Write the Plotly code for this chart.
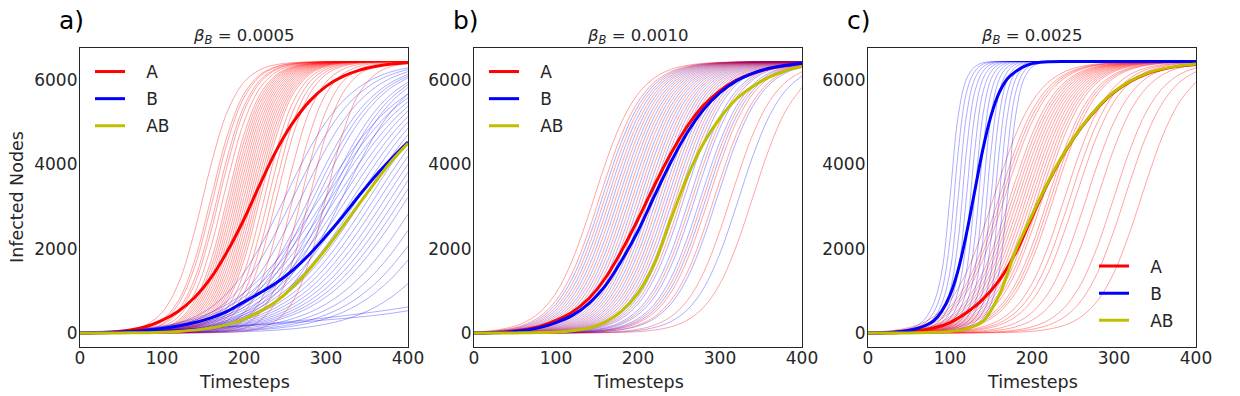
import plotly.graph_objects as go

# timesteps (runs sampled every 20 steps; panel c "B" runs are steep, so a finer grid)
t = list(range(0, 401, 20))
t_fast = [0, 20, 40, 50, 60, 70, 80, 90, 100, 110, 120, 130, 140, 150, 160, 170,
          180, 190, 200, 210, 220, 240, 260, 300, 400]

x_ticks = [0, 100, 200, 300, 400]
y_ticks = [0, 2000, 4000, 6000]
titles = ["0.0005", "0.0010", "0.0025"]
labels = ["a)", "b)", "c)"]

# ---- panel a : beta_B = 0.0005 ----
a_mean_A = [0, 8, 25, 70, 150, 300, 520, 850, 1320, 1950, 2700, 3550, 4350, 5000, 5500, 5850, 6080, 6230, 6320, 6380, 6410]
a_mean_B = [0, 5, 15, 35, 65, 110, 170, 250, 360, 520, 740, 960, 1200, 1500, 1870, 2300, 2760, 3250, 3720, 4140, 4530]
a_mean_AB = [0, 0, 2, 5, 10, 20, 40, 70, 120, 200, 330, 520, 760, 1100, 1520, 2000, 2520, 3050, 3580, 4080, 4500]

a_runs_A = [
    [4, 10, 26, 71, 189, 489, 1172, 2433, 4007, 5268, 5951, 6251, 6369, 6414, 6430, 6437, 6440, 6440, 6440, 6440, 6440],
    [2, 6, 16, 43, 116, 305, 768, 1732, 3220, 4708, 5672, 6135, 6324, 6397, 6424, 6434, 6438, 6440, 6440, 6440, 6440],
    [2, 5, 14, 38, 102, 271, 687, 1578, 3019, 4545, 5584, 6096, 6309, 6391, 6422, 6433, 6438, 6440, 6440, 6440, 6440],
    [2, 4, 11, 30, 80, 213, 548, 1300, 2623, 4195, 5380, 6005, 6273, 6378, 6417, 6431, 6437, 6440, 6440, 6440, 6440],
    [1, 4, 10, 26, 71, 189, 489, 1172, 2433, 4007, 5268, 5951, 6251, 6369, 6414, 6430, 6437, 6440, 6440, 6440, 6440],
    [1, 3, 8, 20, 55, 148, 387, 954, 2066, 3620, 5006, 5826, 6200, 6349, 6406, 6428, 6436, 6440, 6440, 6440, 6440],
    [1, 2, 6, 16, 43, 116, 305, 768, 1732, 3220, 4708, 5672, 6135, 6324, 6397, 6424, 6434, 6438, 6440, 6440, 6440],
    [1, 2, 5, 14, 38, 102, 271, 687, 1578, 3019, 4545, 5584, 6096, 6309, 6391, 6422, 6433, 6438, 6440, 6440, 6440],
    [1, 2, 5, 12, 34, 91, 240, 614, 1434, 2820, 4374, 5486, 6053, 6292, 6385, 6420, 6432, 6437, 6440, 6440, 6440],
    [1, 2, 4, 11, 30, 80, 213, 548, 1300, 2623, 4195, 5380, 6005, 6273, 6378, 6417, 6431, 6437, 6440, 6440, 6440],
    [0, 1, 4, 10, 26, 71, 189, 489, 1172, 2433, 4007, 5268, 5951, 6251, 6369, 6414, 6430, 6437, 6440, 6440, 6440],
    [0, 1, 3, 9, 23, 62, 167, 435, 1059, 2245, 3817, 5141, 5892, 6227, 6360, 6410, 6429, 6436, 6439, 6440, 6440],
    [0, 1, 3, 8, 20, 55, 148, 387, 954, 2066, 3620, 5006, 5826, 6200, 6349, 6406, 6428, 6436, 6440, 6440, 6440],
    [0, 1, 2, 7, 18, 49, 131, 344, 856, 1895, 3421, 4862, 5753, 6169, 6338, 6402, 6426, 6435, 6438, 6440, 6440],
    [0, 1, 2, 6, 16, 43, 116, 305, 768, 1732, 3220, 4708, 5672, 6135, 6324, 6397, 6424, 6434, 6438, 6440, 6440],
    [0, 1, 2, 5, 14, 38, 102, 271, 687, 1578, 3019, 4545, 5584, 6096, 6309, 6391, 6422, 6433, 6438, 6440, 6440],
    [0, 1, 2, 5, 12, 34, 91, 240, 614, 1434, 2820, 4374, 5486, 6053, 6292, 6385, 6420, 6432, 6437, 6440, 6440],
    [0, 1, 2, 4, 11, 30, 80, 213, 548, 1300, 2623, 4195, 5380, 6005, 6273, 6378, 6417, 6431, 6437, 6440, 6440],
    [0, 0, 1, 4, 10, 26, 71, 189, 489, 1172, 2433, 4007, 5268, 5951, 6251, 6369, 6414, 6430, 6437, 6440, 6440],
    [0, 0, 1, 3, 9, 23, 62, 167, 435, 1059, 2245, 3817, 5141, 5892, 6227, 6360, 6410, 6429, 6436, 6439, 6440],
    [0, 0, 1, 3, 8, 20, 55, 148, 387, 954, 2066, 3620, 5006, 5826, 6200, 6349, 6406, 6428, 6436, 6440, 6440],
    [0, 0, 1, 2, 7, 18, 49, 131, 344, 856, 1895, 3421, 4862, 5753, 6169, 6338, 6402, 6426, 6435, 6438, 6440],
    [0, 0, 1, 2, 6, 16, 43, 116, 305, 768, 1732, 3220, 4708, 5672, 6135, 6324, 6397, 6424, 6434, 6438, 6440],
    [0, 0, 1, 2, 5, 12, 34, 91, 240, 614, 1434, 2820, 4374, 5486, 6053, 6292, 6385, 6420, 6432, 6437, 6440],
    [0, 0, 0, 1, 4, 10, 26, 71, 189, 489, 1172, 2433, 4007, 5268, 5951, 6251, 6369, 6414, 6430, 6437, 6440],
    [0, 0, 0, 1, 3, 8, 20, 55, 148, 387, 954, 2066, 3620, 5006, 5826, 6200, 6349, 6406, 6428, 6436, 6440],
    [0, 0, 0, 1, 2, 6, 16, 43, 116, 305, 768, 1732, 3220, 4708, 5672, 6135, 6324, 6397, 6424, 6434, 6438],
    [0, 0, 0, 0, 1, 4, 10, 26, 71, 189, 489, 1172, 2433, 4007, 5268, 5951, 6251, 6369, 6414, 6430, 6437],
    [0, 0, 0, 0, 1, 2, 6, 16, 43, 116, 305, 768, 1732, 3220, 4708, 5672, 6135, 6324, 6397, 6424, 6434],
    [0, 0, 0, 0, 0, 1, 4, 10, 26, 71, 189, 489, 1172, 2433, 4007, 5268, 5951, 6251, 6369, 6414, 6430],
    [0, 0, 0, 0, 0, 1, 2, 6, 16, 43, 116, 305, 768, 1732, 3220, 4708, 5672, 6135, 6324, 6397, 6424],
    [0, 0, 0, 0, 0, 0, 1, 2, 6, 16, 43, 116, 305, 768, 1732, 3220, 4708, 5672, 6135, 6324, 6397],
]
a_runs_B = [
    [12, 20, 34, 55, 91, 148, 240, 387, 614, 954, 1434, 2066, 2820, 3620, 4374, 5006, 5486, 5826, 6053, 6200, 6292],
    [23, 34, 49, 71, 102, 148, 213, 305, 435, 614, 856, 1172, 1578, 2066, 2623, 3220, 3817, 4374, 4862, 5268, 5584],
    [10, 16, 26, 43, 71, 116, 189, 305, 489, 768, 1172, 1732, 2433, 3220, 4007, 4708, 5268, 5672, 5951, 6135, 6251],
    [26, 38, 55, 80, 116, 167, 240, 344, 489, 687, 954, 1300, 1732, 2245, 2820, 3421, 4007, 4545, 5006, 5380, 5672],
    [8, 12, 20, 34, 55, 91, 148, 240, 387, 614, 954, 1434, 2066, 2820, 3620, 4374, 5006, 5486, 5826, 6053, 6200],
    [18, 26, 38, 55, 80, 116, 167, 240, 344, 489, 687, 954, 1300, 1732, 2245, 2820, 3421, 4007, 4545, 5006, 5380],
    [20, 30, 43, 62, 91, 131, 189, 271, 387, 548, 768, 1059, 1434, 1895, 2433, 3019, 3620, 4195, 4708, 5141, 5486],
    [6, 10, 16, 26, 43, 71, 116, 189, 305, 489, 768, 1172, 1732, 2433, 3220, 4007, 4708, 5268, 5672, 5951, 6135],
    [14, 20, 30, 43, 62, 91, 131, 189, 271, 387, 548, 768, 1059, 1434, 1895, 2433, 3019, 3620, 4195, 4708, 5141],
    [5, 9, 14, 23, 38, 62, 102, 167, 271, 435, 687, 1059, 1578, 2245, 3019, 3817, 4545, 5141, 5584, 5892, 6096],
    [16, 23, 34, 49, 71, 102, 148, 213, 305, 435, 614, 856, 1172, 1578, 2066, 2623, 3220, 3817, 4374, 4862, 5268],
    [5, 8, 12, 20, 34, 55, 91, 148, 240, 387, 614, 954, 1434, 2066, 2820, 3620, 4374, 5006, 5486, 5826, 6053],
    [11, 16, 23, 34, 49, 71, 102, 148, 213, 305, 435, 614, 856, 1172, 1578, 2066, 2623, 3220, 3817, 4374, 4862],
    [12, 18, 26, 38, 55, 80, 116, 167, 240, 344, 489, 687, 954, 1300, 1732, 2245, 2820, 3421, 4007, 4545, 5006],
    [4, 6, 10, 16, 26, 43, 71, 116, 189, 305, 489, 768, 1172, 1732, 2433, 3220, 4007, 4708, 5268, 5672, 5951],
    [9, 12, 18, 26, 38, 55, 80, 116, 167, 240, 344, 489, 687, 954, 1300, 1732, 2245, 2820, 3421, 4007, 4545],
    [10, 14, 20, 30, 43, 62, 91, 131, 189, 271, 387, 548, 768, 1059, 1434, 1895, 2433, 3019, 3620, 4195, 4708],
    [3, 5, 9, 14, 23, 38, 62, 102, 167, 271, 435, 687, 1059, 1578, 2245, 3019, 3817, 4545, 5141, 5584, 5892],
    [7, 10, 14, 20, 30, 43, 62, 91, 131, 189, 271, 387, 548, 768, 1059, 1434, 1895, 2433, 3019, 3620, 4195],
    [3, 5, 8, 12, 20, 34, 55, 91, 148, 240, 387, 614, 954, 1434, 2066, 2820, 3620, 4374, 5006, 5486, 5826],
    [8, 11, 16, 23, 34, 49, 71, 102, 148, 213, 305, 435, 614, 856, 1172, 1578, 2066, 2623, 3220, 3817, 4374],
    [5, 8, 11, 16, 23, 34, 49, 71, 102, 148, 213, 305, 435, 614, 856, 1172, 1578, 2066, 2623, 3220, 3817],
    [2, 4, 6, 10, 16, 26, 43, 71, 116, 189, 305, 489, 768, 1172, 1732, 2433, 3220, 4007, 4708, 5268, 5672],
    [6, 9, 12, 18, 26, 38, 55, 80, 116, 167, 240, 344, 489, 687, 954, 1300, 1732, 2245, 2820, 3421, 4007],
    [4, 6, 9, 12, 18, 26, 38, 55, 80, 116, 167, 240, 344, 489, 687, 954, 1300, 1732, 2245, 2820, 3421],
    [5, 7, 10, 14, 20, 30, 43, 62, 91, 131, 189, 271, 387, 548, 768, 1059, 1434, 1895, 2433, 3019, 3620],
    [4, 5, 8, 11, 16, 23, 34, 49, 71, 102, 148, 213, 305, 435, 614, 856, 1172, 1578, 2066, 2623, 3220],
    [3, 4, 6, 9, 12, 18, 26, 38, 55, 80, 116, 167, 240, 344, 489, 687, 954, 1300, 1732, 2245, 2820],
    [2, 3, 5, 7, 10, 14, 20, 30, 43, 62, 91, 131, 189, 271, 387, 548, 768, 1059, 1434, 1895, 2433],
    [2, 2, 4, 5, 8, 11, 16, 23, 34, 49, 71, 102, 148, 213, 305, 435, 614, 856, 1172, 1578, 2066],
    [1, 2, 3, 4, 6, 9, 12, 18, 26, 38, 55, 80, 116, 167, 240, 344, 489, 687, 954, 1300, 1732],
    [1, 1, 2, 2, 4, 5, 8, 11, 16, 23, 34, 49, 71, 102, 148, 213, 305, 435, 614, 856, 1172],
    [0, 8, 18, 30, 45, 62, 80, 100, 120, 145, 170, 195, 222, 250, 280, 312, 345, 380, 420, 470, 530],
    [0, 8, 18, 30, 45, 62, 82, 104, 128, 154, 182, 212, 245, 280, 318, 360, 405, 455, 505, 560, 620],
]

# ---- panel b : beta_B = 0.0010 ----
b_mean_A = [0, 8, 30, 80, 160, 300, 500, 820, 1300, 1950, 2700, 3500, 4250, 4900, 5400, 5750, 6000, 6160, 6270, 6340, 6390]
b_mean_B = [0, 6, 22, 60, 130, 250, 420, 700, 1120, 1720, 2420, 3250, 4050, 4750, 5300, 5700, 5980, 6160, 6280, 6350, 6400]
b_mean_AB = [0, 0, 2, 5, 12, 25, 55, 120, 260, 520, 950, 1650, 2700, 3700, 4500, 5100, 5550, 5850, 6070, 6220, 6320]

b_runs_A = [
    [26, 55, 116, 240, 489, 954, 1732, 2820, 4007, 5006, 5672, 6053, 6251, 6349, 6397, 6420, 6430, 6436, 6438, 6440, 6440],
    [20, 43, 91, 189, 387, 768, 1434, 2433, 3620, 4708, 5486, 5951, 6200, 6324, 6385, 6414, 6428, 6434, 6437, 6440, 6440],
    [16, 34, 71, 148, 305, 614, 1172, 2066, 3220, 4374, 5268, 5826, 6135, 6292, 6369, 6406, 6424, 6432, 6437, 6440, 6440],
    [12, 26, 55, 116, 240, 489, 954, 1732, 2820, 4007, 5006, 5672, 6053, 6251, 6349, 6397, 6420, 6430, 6436, 6438, 6440],
    [10, 20, 43, 91, 189, 387, 768, 1434, 2433, 3620, 4708, 5486, 5951, 6200, 6324, 6385, 6414, 6428, 6434, 6437, 6440],
    [8, 16, 34, 71, 148, 305, 614, 1172, 2066, 3220, 4374, 5268, 5826, 6135, 6292, 6369, 6406, 6424, 6432, 6437, 6440],
    [6, 12, 26, 55, 116, 240, 489, 954, 1732, 2820, 4007, 5006, 5672, 6053, 6251, 6349, 6397, 6420, 6430, 6436, 6438],
    [5, 10, 20, 43, 91, 189, 387, 768, 1434, 2433, 3620, 4708, 5486, 5951, 6200, 6324, 6385, 6414, 6428, 6434, 6437],
    [4, 8, 16, 34, 71, 148, 305, 614, 1172, 2066, 3220, 4374, 5268, 5826, 6135, 6292, 6369, 6406, 6424, 6432, 6437],
    [3, 6, 12, 26, 55, 116, 240, 489, 954, 1732, 2820, 4007, 5006, 5672, 6053, 6251, 6349, 6397, 6420, 6430, 6436],
    [2, 5, 10, 20, 43, 91, 189, 387, 768, 1434, 2433, 3620, 4708, 5486, 5951, 6200, 6324, 6385, 6414, 6428, 6434],
    [2, 4, 8, 16, 34, 71, 148, 305, 614, 1172, 2066, 3220, 4374, 5268, 5826, 6135, 6292, 6369, 6406, 6424, 6432],
    [1, 3, 6, 12, 26, 55, 116, 240, 489, 954, 1732, 2820, 4007, 5006, 5672, 6053, 6251, 6349, 6397, 6420, 6430],
    [1, 2, 5, 10, 20, 43, 91, 189, 387, 768, 1434, 2433, 3620, 4708, 5486, 5951, 6200, 6324, 6385, 6414, 6428],
    [1, 2, 4, 8, 16, 34, 71, 148, 305, 614, 1172, 2066, 3220, 4374, 5268, 5826, 6135, 6292, 6369, 6406, 6424],
    [1, 1, 3, 6, 12, 26, 55, 116, 240, 489, 954, 1732, 2820, 4007, 5006, 5672, 6053, 6251, 6349, 6397, 6420],
    [0, 1, 2, 5, 10, 20, 43, 91, 189, 387, 768, 1434, 2433, 3620, 4708, 5486, 5951, 6200, 6324, 6385, 6414],
    [0, 1, 1, 3, 6, 12, 26, 55, 116, 240, 489, 954, 1732, 2820, 4007, 5006, 5672, 6053, 6251, 6349, 6397],
    [0, 0, 1, 2, 4, 8, 16, 34, 71, 148, 305, 614, 1172, 2066, 3220, 4374, 5268, 5826, 6135, 6292, 6369],
    [0, 0, 1, 1, 3, 6, 12, 26, 55, 116, 240, 489, 954, 1732, 2820, 4007, 5006, 5672, 6053, 6251, 6349],
    [0, 0, 0, 1, 2, 5, 10, 20, 43, 91, 189, 387, 768, 1434, 2433, 3620, 4708, 5486, 5951, 6200, 6324],
    [0, 0, 0, 0, 1, 2, 5, 10, 20, 43, 91, 189, 387, 768, 1434, 2433, 3620, 4708, 5486, 5951, 6200],
    [0, 0, 0, 0, 0, 1, 2, 4, 8, 16, 34, 71, 148, 305, 614, 1172, 2066, 3220, 4374, 5268, 5826],
]
b_runs_B = [
    [18, 38, 80, 167, 344, 687, 1300, 2245, 3421, 4545, 5380, 5892, 6169, 6309, 6378, 6410, 6426, 6433, 6437, 6439, 6440],
    [14, 30, 62, 131, 271, 548, 1059, 1895, 3019, 4195, 5141, 5753, 6096, 6273, 6360, 6402, 6422, 6431, 6436, 6438, 6440],
    [11, 23, 49, 102, 213, 435, 856, 1578, 2623, 3817, 4862, 5584, 6005, 6227, 6338, 6391, 6417, 6429, 6435, 6438, 6440],
    [9, 18, 38, 80, 167, 344, 687, 1300, 2245, 3421, 4545, 5380, 5892, 6169, 6309, 6378, 6410, 6426, 6433, 6437, 6439],
    [7, 14, 30, 62, 131, 271, 548, 1059, 1895, 3019, 4195, 5141, 5753, 6096, 6273, 6360, 6402, 6422, 6431, 6436, 6438],
    [5, 11, 23, 49, 102, 213, 435, 856, 1578, 2623, 3817, 4862, 5584, 6005, 6227, 6338, 6391, 6417, 6429, 6435, 6438],
    [4, 8, 18, 38, 80, 167, 344, 687, 1300, 2245, 3421, 4545, 5380, 5892, 6169, 6309, 6378, 6410, 6426, 6433, 6437],
    [3, 7, 14, 30, 62, 131, 271, 548, 1059, 1895, 3019, 4195, 5141, 5753, 6096, 6273, 6360, 6402, 6422, 6431, 6436],
    [2, 5, 11, 23, 49, 102, 213, 435, 856, 1578, 2623, 3817, 4862, 5584, 6005, 6227, 6338, 6391, 6417, 6429, 6435],
    [2, 4, 8, 18, 38, 80, 167, 344, 687, 1300, 2245, 3421, 4545, 5380, 5892, 6169, 6309, 6378, 6410, 6426, 6433],
    [1, 3, 7, 14, 30, 62, 131, 271, 548, 1059, 1895, 3019, 4195, 5141, 5753, 6096, 6273, 6360, 6402, 6422, 6431],
    [1, 2, 5, 11, 23, 49, 102, 213, 435, 856, 1578, 2623, 3817, 4862, 5584, 6005, 6227, 6338, 6391, 6417, 6429],
    [1, 2, 4, 8, 18, 38, 80, 167, 344, 687, 1300, 2245, 3421, 4545, 5380, 5892, 6169, 6309, 6378, 6410, 6426],
    [1, 1, 3, 7, 14, 30, 62, 131, 271, 548, 1059, 1895, 3019, 4195, 5141, 5753, 6096, 6273, 6360, 6402, 6422],
    [0, 1, 2, 5, 11, 23, 49, 102, 213, 435, 856, 1578, 2623, 3817, 4862, 5584, 6005, 6227, 6338, 6391, 6417],
    [0, 1, 2, 4, 9, 18, 38, 80, 167, 344, 687, 1300, 2245, 3421, 4545, 5380, 5892, 6169, 6309, 6378, 6410],
    [0, 1, 1, 3, 7, 14, 30, 62, 131, 271, 548, 1059, 1895, 3019, 4195, 5141, 5753, 6096, 6273, 6360, 6402],
    [0, 1, 1, 2, 5, 11, 23, 49, 102, 213, 435, 856, 1578, 2623, 3817, 4862, 5584, 6005, 6227, 6338, 6391],
    [0, 0, 1, 2, 4, 8, 18, 38, 80, 167, 344, 687, 1300, 2245, 3421, 4545, 5380, 5892, 6169, 6309, 6378],
    [0, 0, 1, 2, 3, 7, 14, 30, 62, 131, 271, 548, 1059, 1895, 3019, 4195, 5141, 5753, 6096, 6273, 6360],
    [0, 0, 0, 1, 2, 4, 8, 18, 38, 80, 167, 344, 687, 1300, 2245, 3421, 4545, 5380, 5892, 6169, 6309],
    [0, 0, 0, 0, 1, 1, 3, 7, 14, 30, 62, 131, 271, 548, 1059, 1895, 3019, 4195, 5141, 5753, 6096],
]

# ---- panel c : beta_B = 0.0025 ----
c_mean_A = [0, 3, 15, 50, 120, 250, 480, 800, 1250, 1900, 2750, 3580, 4290, 4870, 5340, 5710, 5970, 6150, 6260, 6330, 6370]
c_mean_B = [0, 8, 35, 65, 110, 180, 290, 520, 900, 1500, 2350, 3350, 4350, 5150, 5700, 6030, 6200, 6320, 6390, 6420, 6435, 6440, 6440, 6440, 6440]
c_mean_AB = [0, 1, 3, 8, 18, 40, 100, 280, 900, 1950, 2800, 3600, 4300, 4880, 5350, 5720, 5980, 6160, 6270, 6340, 6380]

c_runs_A = [
    [20, 43, 91, 189, 387, 768, 1434, 2433, 3620, 4708, 5486, 5951, 6200, 6324, 6385, 6414, 6428, 6434, 6437, 6440, 6440],
    [16, 34, 71, 148, 305, 614, 1172, 2066, 3220, 4374, 5268, 5826, 6135, 6292, 6369, 6406, 6424, 6432, 6437, 6440, 6440],
    [14, 30, 62, 131, 271, 548, 1059, 1895, 3019, 4195, 5141, 5753, 6096, 6273, 6360, 6402, 6422, 6431, 6436, 6438, 6440],
    [12, 26, 55, 116, 240, 489, 954, 1732, 2820, 4007, 5006, 5672, 6053, 6251, 6349, 6397, 6420, 6430, 6436, 6438, 6440],
    [10, 20, 43, 91, 189, 387, 768, 1434, 2433, 3620, 4708, 5486, 5951, 6200, 6324, 6385, 6414, 6428, 6434, 6437, 6440],
    [9, 18, 38, 80, 167, 344, 687, 1300, 2245, 3421, 4545, 5380, 5892, 6169, 6309, 6378, 6410, 6426, 6433, 6437, 6439],
    [8, 16, 34, 71, 148, 305, 614, 1172, 2066, 3220, 4374, 5268, 5826, 6135, 6292, 6369, 6406, 6424, 6432, 6437, 6440],
    [7, 14, 30, 62, 131, 271, 548, 1059, 1895, 3019, 4195, 5141, 5753, 6096, 6273, 6360, 6402, 6422, 6431, 6436, 6438],
    [6, 12, 26, 55, 116, 240, 489, 954, 1732, 2820, 4007, 5006, 5672, 6053, 6251, 6349, 6397, 6420, 6430, 6436, 6438],
    [5, 11, 23, 49, 102, 213, 435, 856, 1578, 2623, 3817, 4862, 5584, 6005, 6227, 6338, 6391, 6417, 6429, 6435, 6438],
    [5, 10, 20, 43, 91, 189, 387, 768, 1434, 2433, 3620, 4708, 5486, 5951, 6200, 6324, 6385, 6414, 6428, 6434, 6437],
    [4, 8, 18, 38, 80, 167, 344, 687, 1300, 2245, 3421, 4545, 5380, 5892, 6169, 6309, 6378, 6410, 6426, 6433, 6437],
    [4, 8, 16, 34, 71, 148, 305, 614, 1172, 2066, 3220, 4374, 5268, 5826, 6135, 6292, 6369, 6406, 6424, 6432, 6437],
    [3, 7, 14, 30, 62, 131, 271, 548, 1059, 1895, 3019, 4195, 5141, 5753, 6096, 6273, 6360, 6402, 6422, 6431, 6436],
    [3, 6, 12, 26, 55, 116, 240, 489, 954, 1732, 2820, 4007, 5006, 5672, 6053, 6251, 6349, 6397, 6420, 6430, 6436],
    [2, 5, 11, 23, 49, 102, 213, 435, 856, 1578, 2623, 3817, 4862, 5584, 6005, 6227, 6338, 6391, 6417, 6429, 6435],
    [2, 5, 10, 20, 43, 91, 189, 387, 768, 1434, 2433, 3620, 4708, 5486, 5951, 6200, 6324, 6385, 6414, 6428, 6434],
    [2, 4, 8, 16, 34, 71, 148, 305, 614, 1172, 2066, 3220, 4374, 5268, 5826, 6135, 6292, 6369, 6406, 6424, 6432],
    [1, 3, 7, 14, 30, 62, 131, 271, 548, 1059, 1895, 3019, 4195, 5141, 5753, 6096, 6273, 6360, 6402, 6422, 6431],
    [1, 3, 6, 12, 26, 55, 116, 240, 489, 954, 1732, 2820, 4007, 5006, 5672, 6053, 6251, 6349, 6397, 6420, 6430],
    [1, 2, 4, 8, 16, 34, 71, 148, 305, 614, 1172, 2066, 3220, 4374, 5268, 5826, 6135, 6292, 6369, 6406, 6424],
    [1, 1, 3, 6, 12, 26, 55, 116, 240, 489, 954, 1732, 2820, 4007, 5006, 5672, 6053, 6251, 6349, 6397, 6420],
    [0, 1, 2, 5, 10, 20, 43, 91, 189, 387, 768, 1434, 2433, 3620, 4708, 5486, 5951, 6200, 6324, 6385, 6414],
    [0, 1, 1, 3, 6, 12, 26, 55, 116, 240, 489, 954, 1732, 2820, 4007, 5006, 5672, 6053, 6251, 6349, 6397],
    [0, 0, 1, 2, 4, 8, 16, 34, 71, 148, 305, 614, 1172, 2066, 3220, 4374, 5268, 5826, 6135, 6292, 6369],
    [0, 0, 0, 1, 2, 4, 8, 16, 34, 71, 148, 305, 614, 1172, 2066, 3220, 4374, 5268, 5826, 6135, 6292],
    [0, 0, 0, 0, 1, 2, 5, 10, 20, 43, 91, 189, 387, 768, 1434, 2433, 3620, 4708, 5486, 5951, 6200],
    [0, 0, 0, 0, 0, 1, 2, 5, 10, 20, 43, 91, 189, 387, 768, 1434, 2433, 3620, 4708, 5486, 5951],
]
c_runs_B = [
    [0, 15, 55, 100, 180, 350, 700, 1450, 3220, 5150, 6020, 6310, 6410, 6436, 6440, 6440, 6440, 6440, 6440, 6440, 6440, 6440, 6440, 6440, 6440],
    [0, 10, 41, 75, 135, 250, 490, 1000, 2200, 4300, 5700, 6200, 6375, 6428, 6440, 6440, 6440, 6440, 6440, 6440, 6440, 6440, 6440, 6440, 6440],
    [0, 7, 30, 55, 100, 180, 350, 700, 1450, 3220, 5150, 6020, 6310, 6410, 6436, 6440, 6440, 6440, 6440, 6440, 6440, 6440, 6440, 6440, 6440],
    [0, 5, 21, 41, 75, 135, 250, 490, 1000, 2200, 4300, 5700, 6200, 6375, 6428, 6440, 6440, 6440, 6440, 6440, 6440, 6440, 6440, 6440, 6440],
    [0, 3, 15, 30, 55, 100, 180, 350, 700, 1450, 3220, 5150, 6020, 6310, 6410, 6436, 6440, 6440, 6440, 6440, 6440, 6440, 6440, 6440, 6440],
    [0, 3, 10, 21, 41, 75, 135, 250, 490, 1000, 2200, 4300, 5700, 6200, 6375, 6428, 6440, 6440, 6440, 6440, 6440, 6440, 6440, 6440, 6440],
    [0, 2, 7, 15, 30, 55, 100, 180, 350, 700, 1450, 3220, 5150, 6020, 6310, 6410, 6436, 6440, 6440, 6440, 6440, 6440, 6440, 6440, 6440],
    [0, 2, 5, 10, 21, 41, 75, 135, 250, 490, 1000, 2200, 4300, 5700, 6200, 6375, 6428, 6440, 6440, 6440, 6440, 6440, 6440, 6440, 6440],
    [0, 1, 3, 7, 15, 30, 55, 100, 180, 350, 700, 1450, 3220, 5150, 6020, 6310, 6410, 6436, 6440, 6440, 6440, 6440, 6440, 6440, 6440],
    [0, 1, 3, 5, 10, 21, 41, 75, 135, 250, 490, 1000, 2200, 4300, 5700, 6200, 6375, 6428, 6440, 6440, 6440, 6440, 6440, 6440, 6440],
    [0, 1, 2, 3, 7, 15, 30, 55, 100, 180, 350, 700, 1450, 3220, 5150, 6020, 6310, 6410, 6436, 6440, 6440, 6440, 6440, 6440, 6440],
    [0, 1, 2, 3, 5, 10, 21, 41, 75, 135, 250, 490, 1000, 2200, 4300, 5700, 6200, 6375, 6428, 6440, 6440, 6440, 6440, 6440, 6440],
    [0, 1, 1, 2, 3, 7, 15, 30, 55, 100, 180, 350, 700, 1450, 3220, 5150, 6020, 6310, 6410, 6436, 6440, 6440, 6440, 6440, 6440],
    [0, 1, 1, 2, 3, 5, 10, 21, 41, 75, 135, 250, 490, 1000, 2200, 4300, 5700, 6200, 6375, 6428, 6440, 6440, 6440, 6440, 6440],
    [0, 0, 1, 1, 2, 3, 7, 15, 30, 55, 100, 180, 350, 700, 1450, 3220, 5150, 6020, 6310, 6410, 6436, 6440, 6440, 6440, 6440],
]

RED, BLUE, YELLOW = "#ff0000", "#0000ff", "#bfbf00"
RED_THIN = "rgba(255,0,0,0.4)"
BLUE_THIN = "rgba(0,0,255,0.36)"
FONT = "DejaVu Sans, Arial, sans-serif"
INK = "#262626"

panels = [
    dict(runs_A=a_runs_A, runs_B=a_runs_B, tB=t, mean_A=a_mean_A, mean_B=a_mean_B, mean_AB=a_mean_AB),
    dict(runs_A=b_runs_A, runs_B=b_runs_B, tB=t, mean_A=b_mean_A, mean_B=b_mean_B, mean_AB=b_mean_AB),
    dict(runs_A=c_runs_A, runs_B=c_runs_B, tB=t_fast, mean_A=c_mean_A, mean_B=c_mean_B, mean_AB=c_mean_AB),
]

# plot areas in pixels (left, right) and shared (top, bottom)
W, H = 1240, 396
x_px = [(80, 408), (474, 802), (868, 1196)]
top_px, bot_px = 48, 347

fig = go.Figure()

for k, p in enumerate(panels):
    xa = "x" if k == 0 else "x%d" % (k + 1)
    ya = "y" if k == 0 else "y%d" % (k + 1)
    leg = "legend" if k == 0 else "legend%d" % (k + 1)
    n = max(len(p["runs_A"]), len(p["runs_B"]))
    for i in range(n):
        if i < len(p["runs_A"]):
            fig.add_trace(go.Scatter(x=t, y=p["runs_A"][i], mode="lines", line_shape="spline",
                                     line=dict(color=RED_THIN, width=0.9), showlegend=False,
                                     hoverinfo="skip", xaxis=xa, yaxis=ya))
        if i < len(p["runs_B"]):
            fig.add_trace(go.Scatter(x=p["tB"], y=p["runs_B"][i], mode="lines", line_shape="spline",
                                     line=dict(color=BLUE_THIN, width=0.9), showlegend=False,
                                     hoverinfo="skip", xaxis=xa, yaxis=ya))
    for name, xs, ys, col in [("A", t, p["mean_A"], RED),
                              ("B", p["tB"], p["mean_B"], BLUE),
                              ("AB", t, p["mean_AB"], YELLOW)]:
        fig.add_trace(go.Scatter(x=xs, y=ys, mode="lines", line_shape="spline",
                                 line=dict(color=col, width=3),
                                 name="\u00a0\u00a0\u00a0" + name,
                                 legend=leg, legendgroup=name + str(k), xaxis=xa, yaxis=ya))

layout = dict(
    width=W, height=H, autosize=False,
    margin=dict(l=0, r=0, t=0, b=0, pad=0, autoexpand=False),
    paper_bgcolor="white", plot_bgcolor="white",
    font=dict(family=FONT, color=INK),
    hovermode=False,
)

for k in range(3):
    sx = "" if k == 0 else str(k + 1)
    l, r = x_px[k]
    layout["xaxis" + sx] = dict(domain=[l / W, r / W], range=[0, 400], tickvals=x_ticks,
                                showgrid=False, zeroline=False, showline=True, mirror=True,
                                linecolor=INK, linewidth=1.25, ticks="", automargin=False,
                                ticklabelstandoff=-5, tickfont=dict(size=17, color=INK),
                                anchor="y" + sx)
    layout["yaxis" + sx] = dict(domain=[1 - bot_px / H, 1 - top_px / H], range=[-330, 6760],
                                tickvals=y_ticks, showgrid=False, zeroline=False, showline=True,
                                mirror=True, linecolor=INK, linewidth=1.25, ticks="",
                                automargin=False, ticklabelstandoff=-2,
                                tickfont=dict(size=17, color=INK), anchor="x" + sx)

leg_style = dict(bgcolor="rgba(0,0,0,0)", font=dict(size=17, color=INK, family=FONT),
                 xanchor="left", yanchor="top", tracegroupgap=2, itemclick=False)
layout["legend"] = dict(leg_style, x=90 / W, y=1 - 54 / H)
layout["legend2"] = dict(leg_style, x=484 / W, y=1 - 54 / H)
layout["legend3"] = dict(leg_style, x=1094 / W, y=1 - 248.5 / H)

ann = []
for k in range(3):
    l, r = x_px[k]
    cx = (l + r) / 2 / W
    ann.append(dict(text="<i>β</i><sub><i>B</i></sub> = " + titles[k], x=cx, y=1 - 36 / H,
                    xanchor="center", yanchor="middle", xref="paper", yref="paper",
                    showarrow=False, font=dict(size=16.5, color=INK)))
    ann.append(dict(text="Timesteps", x=cx, y=1 - 382 / H, xanchor="center", yanchor="middle",
                    xref="paper", yref="paper", showarrow=False, font=dict(size=17.5, color=INK)))
    ann.append(dict(text=labels[k], x=(l - 23) / W, y=1 - 21 / H, xanchor="left",
                    yanchor="middle", xref="paper", yref="paper", showarrow=False,
                    font=dict(size=25, color="black")))
ann.append(dict(text="Infected Nodes", x=17 / W, y=1 - 197 / H, xanchor="center",
                yanchor="middle", xref="paper", yref="paper", textangle=-90,
                showarrow=False, font=dict(size=17.5, color=INK)))
layout["annotations"] = ann

fig.update_layout(**layout)
# page margin / scrollbars would offset the fixed-size figure
fig.write_html("out.html", config={"displayModeBar": False, "responsive": False},
               post_script="document.body.style.margin='0px';"
                           "document.body.style.overflow='hidden';"
                           "document.documentElement.style.overflow='hidden';")
